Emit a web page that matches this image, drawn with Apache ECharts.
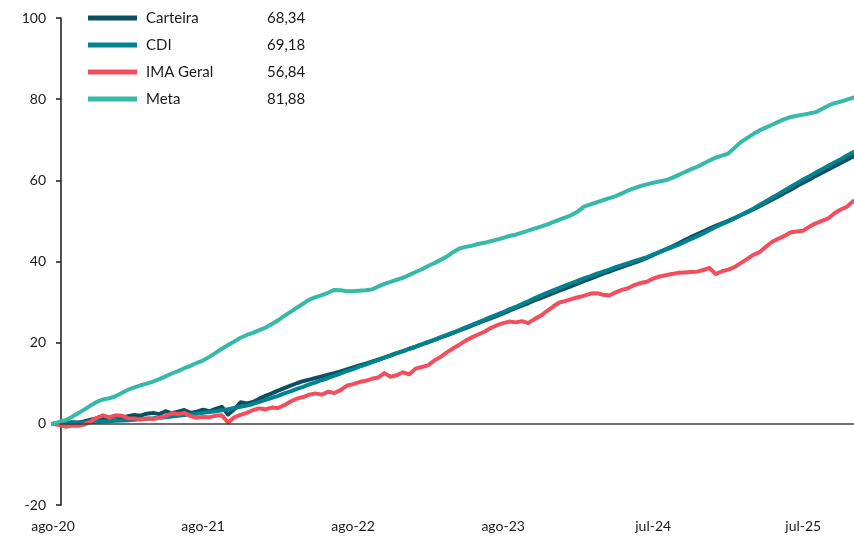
<!DOCTYPE html>
<html>
<head>
<meta charset="utf-8">
<script src="https://cdn.jsdelivr.net/npm/echarts@6/dist/echarts.min.js"></script>
<style>
  html, body { margin: 0; padding: 0; background: #ffffff; overflow: hidden; width: 854px; height: 538px; }
  /* the plot runs a little past the right edge of the view */
  #chart { width: 872px; height: 538px; }
</style>
</head>
<body>
<div id="chart"></div>
<script>
// Cumulative returns (%), semi-monthly points starting Aug 2020
const tickLabels = ['ago-20', 'ago-21', 'ago-22', 'ago-23', 'jul-24', 'jul-25'];
const pointsPerTick = 24;

const carteira = [
  0, 0.1, 0.2, 0.4, 0.3, 0.6, 1.0, 1.3, 1.2, 1.6, 1.8,
  1.5, 1.9, 2.2, 2.0, 2.5, 2.7, 2.4, 3.1, 2.6, 3.0,
  3.4, 2.7, 3.0, 3.5, 3.1, 3.7, 4.2, 2.3, 3.6, 5.3,
  5.0, 5.4, 6.2, 6.9, 7.5, 8.2, 8.8, 9.4, 10.0, 10.5,
  10.9, 11.3, 11.7, 12.1, 12.5, 12.9, 13.4, 13.9, 14.4, 14.8,
  15.3, 15.8, 16.3, 16.9, 17.4, 17.9, 18.5, 19.0, 19.6, 20.1,
  20.7, 21.3, 21.8, 22.4, 23.0, 23.6, 24.2, 24.8, 25.4, 26.0,
  26.6, 27.2, 27.9, 28.5, 29.1, 29.7, 30.4, 31.0, 31.6, 32.2,
  32.8, 33.4, 34.0, 34.6, 35.2, 35.8, 36.4, 37.0, 37.5, 38.1,
  38.6, 39.2, 39.7, 40.3, 40.9, 41.6, 42.3, 43.0, 43.7, 44.4,
  45.2, 46.0, 46.7, 47.4, 48.1, 48.8, 49.4, 50.0, 50.7, 51.4,
  52.1, 52.8, 53.6, 54.4, 55.2, 56.0, 56.9, 57.7, 58.6, 59.4,
  60.2, 61.1, 61.9, 62.7, 63.5, 64.3, 65.1, 65.9, 66.7, 67.5,
  68.34
];

const cdi = [
  0, 0.05, 0.1, 0.15, 0.25, 0.3, 0.4, 0.5, 0.6, 0.65, 0.75,
  0.85, 0.9, 1.0, 1.1, 1.25, 1.35, 1.5, 1.65, 1.8, 2.0,
  2.15, 2.3, 2.5, 2.7, 2.9, 3.1, 3.35, 3.6, 3.9, 4.2,
  4.5, 4.9, 5.4, 5.9, 6.4, 6.9, 7.5, 8.0, 8.6, 9.1,
  9.7, 10.2, 10.8, 11.3, 11.9, 12.4, 13.0, 13.5, 14.1, 14.6,
  15.2, 15.7, 16.3, 16.8, 17.4, 17.9, 18.5, 19.0, 19.6, 20.2,
  20.7, 21.3, 21.9, 22.5, 23.1, 23.8, 24.4, 25.0, 25.6, 26.3,
  26.9, 27.5, 28.2, 28.8, 29.5, 30.2, 30.9, 31.6, 32.3, 32.9,
  33.5, 34.1, 34.7, 35.3, 35.9, 36.4, 37.0, 37.5, 38.0, 38.6,
  39.1, 39.6, 40.1, 40.6, 41.1, 41.7, 42.3, 42.9, 43.5, 44.1,
  44.8, 45.5, 46.2, 46.9, 47.7, 48.5, 49.2, 49.9, 50.6, 51.4,
  52.2, 53.0, 53.9, 54.8, 55.7, 56.6, 57.5, 58.4, 59.3, 60.2,
  61.0, 61.9, 62.7, 63.6, 64.4, 65.2, 66.1, 66.9, 67.7, 68.4,
  69.18
];

const imaGeral = [
  0, -0.3, -0.7, -0.4, -0.5, -0.2, 0.6, 1.5, 2.1, 1.6, 2.1,
  2.0, 1.4, 1.3, 1.1, 1.3, 1.2, 1.5, 1.9, 2.6, 2.4,
  2.7, 1.9, 1.5, 1.7, 1.6, 2.0, 2.1, 0.3, 1.6, 2.2,
  2.7, 3.4, 3.8, 3.6, 4.0, 3.9, 4.6, 5.5, 6.2, 6.6,
  7.2, 7.5, 7.2, 7.9, 7.6, 8.3, 9.4, 9.8, 10.3, 10.6,
  11.1, 11.4, 12.5, 11.6, 12.0, 12.7, 12.2, 13.6, 14.0, 14.4,
  15.6, 16.5, 17.6, 18.6, 19.5, 20.5, 21.3, 22.0, 22.7, 23.6,
  24.3, 24.8, 25.2, 25.0, 25.3, 24.8, 25.8, 26.6, 27.8, 28.9,
  29.9, 30.3, 30.8, 31.2, 31.6, 32.1, 32.2, 31.8, 31.6, 32.4,
  33.0, 33.4, 34.2, 34.7, 35.0, 35.8, 36.3, 36.6, 36.9, 37.2,
  37.3, 37.4, 37.5, 37.9, 38.4, 36.9, 37.6, 38.0, 38.6, 39.6,
  40.6, 41.6, 42.3, 43.6, 44.8, 45.6, 46.3, 47.2, 47.4, 47.6,
  48.6, 49.4, 50.0, 50.6, 51.9, 52.8, 53.5, 54.9, 55.5, 56.2,
  56.84
];

const meta = [
  0, 0.5, 0.9, 1.7, 2.6, 3.5, 4.5, 5.4, 6.0, 6.3, 6.8,
  7.6, 8.4, 9.0, 9.5, 9.9, 10.4, 11.0, 11.7, 12.4, 13.0,
  13.7, 14.3, 15.0, 15.6, 16.5, 17.5, 18.5, 19.4, 20.3, 21.2,
  21.9, 22.4, 23.1, 23.7, 24.6, 25.5, 26.6, 27.6, 28.6, 29.6,
  30.6, 31.2, 31.7, 32.3, 33.0, 32.9, 32.7, 32.7, 32.8, 32.9,
  33.1, 33.8, 34.5, 35.0, 35.5, 36.0, 36.7, 37.4, 38.1, 38.9,
  39.6, 40.4, 41.2, 42.3, 43.2, 43.6, 43.9, 44.3, 44.6, 45.0,
  45.4, 45.8, 46.3, 46.6, 47.1, 47.6, 48.1, 48.6, 49.1, 49.7,
  50.3, 50.9, 51.5, 52.4, 53.6, 54.1, 54.6, 55.1, 55.6, 56.1,
  56.8, 57.5, 58.1, 58.6, 59.0, 59.4, 59.7, 60.0, 60.6, 61.3,
  62.0, 62.7, 63.3, 64.1, 64.9, 65.6, 66.1, 66.6, 68.0, 69.4,
  70.4, 71.4, 72.3, 73.0, 73.7, 74.4, 75.1, 75.6, 75.9, 76.2,
  76.5, 76.8, 77.6, 78.4, 79.0, 79.4, 79.9, 80.4, 80.9, 81.4,
  81.88
];

const seriesNames = ['Carteira', 'CDI', 'IMA Geral', 'Meta'];
const seriesColors = ['#0b4f62', '#01838f', '#f34e5e', '#35b9a8'];
const seriesData = [carteira, cdi, imaGeral, meta];

const periods = carteira.map((_, i) => i);
const lastIndex = periods.length - 1;
const lastValue = {};
seriesNames.forEach((n, k) => {
  const arr = seriesData[k];
  lastValue[n] = arr[arr.length - 1].toFixed(2).replace('.', ',');
});

// the value axis crosses the category axis slightly after the first period
const valueAxisCross = 1.28;

const FONT = 'Lato, "Noto Sans", sans-serif';

const chart = echarts.init(document.getElementById('chart'), null, { renderer: 'canvas' });

const series = seriesNames.map((name, k) => ({
  name: name,
  type: 'line',
  data: seriesData[k],
  showSymbol: false,
  symbol: 'none',
  smooth: false,
  animation: false,
  lineStyle: { color: seriesColors[k], width: 4, cap: 'round', join: 'round' },
  itemStyle: { color: seriesColors[k] },
  z: 2 + k
}));

// horizontal reference line at zero
series[0].markLine = {
  silent: true,
  symbol: 'none',
  animation: false,
  label: { show: false },
  lineStyle: { color: '#3f3f3f', type: 'solid', width: 1.5 },
  data: [[{ coord: [valueAxisCross, 0] }, { coord: [lastIndex, 0] }]],
  z: 10
};

chart.setOption({
  backgroundColor: '#ffffff',
  animation: false,
  grid: { left: 53, right: 0, top: 18, bottom: 33, containLabel: false },
  legend: {
    orient: 'vertical',
    left: 88,
    top: 9,
    padding: 0,
    itemWidth: 49,
    itemHeight: 5,
    itemGap: 9,
    icon: 'rect',
    data: seriesNames,
    textStyle: {
      fontFamily: FONT,
      fontSize: 15,
      color: '#1a1a1a',
      lineHeight: 18,
      rich: {
        n: { width: 121, fontFamily: FONT, fontSize: 15, color: '#1a1a1a', padding: [0, 0, 0, 4] },
        v: { fontFamily: FONT, fontSize: 15, color: '#1a1a1a' }
      }
    },
    formatter: (name) => '{n|' + name + '}{v|' + lastValue[name] + '}'
  },
  xAxis: {
    type: 'category',
    data: periods,
    boundaryGap: false,
    axisLine: { show: false, onZero: false },
    axisTick: { show: false },
    splitLine: { show: false },
    axisLabel: {
      interval: (i) => i % pointsPerTick === 0,
      formatter: (v, i) => tickLabels[Math.round(i / pointsPerTick)] || '',
      fontFamily: FONT,
      fontSize: 14,
      color: '#1a1a1a',
      margin: 14
    }
  },
  yAxis: {
    type: 'value',
    min: -20,
    max: 100,
    interval: 20,
    offset: -8,
    axisLine: { show: true, lineStyle: { color: '#1a1a1a', width: 1.5 } },
    axisTick: { show: true, length: 5, lineStyle: { color: '#1a1a1a', width: 1.5 } },
    splitLine: { show: false },
    axisLabel: {
      fontFamily: FONT,
      fontSize: 14,
      color: '#1a1a1a',
      margin: 15
    }
  },
  series: series
});
</script>
</body>
</html>
